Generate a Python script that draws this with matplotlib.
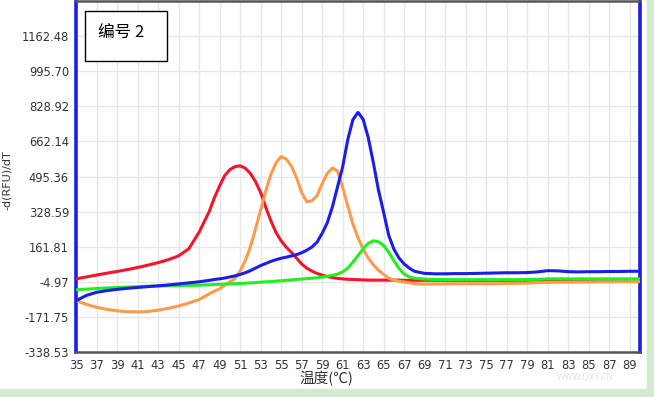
import matplotlib
matplotlib.use("Agg")
import matplotlib.pyplot as plt
from matplotlib.patches import Rectangle

# melt curve readings (temperature in C, -d(RFU)/dT)
temps = [35, 36, 37, 38, 39, 40, 41, 42, 43, 44, 45, 46, 47,
         48, 48.5, 49, 49.5, 50, 50.5, 51, 51.5, 52, 52.5, 53, 53.5,
         54, 54.5, 55, 55.5, 56, 56.5, 57, 57.5, 58, 58.5, 59, 59.5,
         60, 60.5, 61, 61.5, 62, 62.5, 63, 63.5, 64, 64.5, 65, 65.5,
         66, 66.5, 67, 67.5, 68,
         69, 70, 71, 72, 73, 74, 75, 76, 77, 78, 79, 80, 81, 82, 83,
         84, 85, 86, 87, 88, 89, 90]

red = [9, 18, 27, 36, 44, 53, 63, 74, 86, 100, 118, 152, 230,
       330, 395, 450, 500, 528, 542, 546, 535, 510, 472, 420, 350,
       285, 230, 190, 160, 135, 108, 80, 60, 46, 35, 27, 20,
       15, 11, 9, 7, 6, 5, 4, 3, 3, 3, 3, 3,
       3, 3, 2, 2, 2,
       2, 2, 2, 2, 2, 2, 2, 2, 2, 2, 2, 3, 4, 4, 4,
       4, 4, 5, 5, 5, 5, 5]

orange = [-95, -112, -126, -136, -143, -147, -148, -146, -140, -131, -120, -106, -90,
          -62, -50, -38, -22, -5, 10, 45, 95, 160, 245, 335, 425,
          505, 560, 590, 578, 545, 490, 420, 375, 380, 404, 460, 510,
          536, 522, 445, 356, 270, 205, 150, 108, 75, 50, 30, 12,
          3, -2, -6, -10, -14,
          -16, -16, -15, -14, -14, -14, -14, -14, -13, -12, -11, -9, -8, -7, -7,
          -6, -6, -5, -5, -4, -4, -4]

green = [-43, -40, -37, -34, -32, -30, -28, -26, -25, -24, -23, -22, -21,
         -19, -18, -17, -16, -15, -14, -13, -12, -10, -9, -7, -5,
         -4, -2, 0, 2, 4, 6, 8, 10, 12, 14, 17, 21,
         26, 31, 42, 60, 88, 120, 151, 178, 190, 185, 168, 135,
         95, 58, 32, 18, 12,
         8, 6, 5, 5, 5, 5, 5, 5, 5, 5, 6, 7, 9, 9, 9,
         9, 9, 9, 9, 9, 9, 9]

blue = [-95, -70, -55, -47, -41, -36, -32, -28, -24, -20, -15, -10, -5,
        2, 6, 9, 13, 18, 23, 30, 38, 48, 60, 72, 82,
        92, 100, 107, 112, 118, 124, 133, 145, 160, 183, 225, 275,
        350, 446, 540, 670, 765, 800, 767, 680, 560, 430, 325, 215,
        150, 108, 80, 60, 45,
        35, 33, 33, 34, 34, 35, 36, 37, 38, 38, 39, 42, 48, 47, 43,
        42, 43, 43, 44, 44, 45, 45]

xticks = list(range(35, 90, 2))
yticks = [-338.53, -171.75, -4.97, 161.81, 328.59, 495.36, 662.14, 828.92, 995.70, 1162.48]
ytick_labels = ['-338.53', '-171.75', '-4.97', '161.81', '328.59', '495.36',
                '662.14', '828.92', '995.70', '1162.48']

plt.rcParams['font.family'] = ['DejaVu Sans']

fig = plt.figure(figsize=(6.54, 3.97), dpi=100)
fig.patch.set_facecolor('white')

# light green frame strips at bottom and right
bg = '#d3ebcf'
fig.patches.append(Rectangle((0, 0), 1, 8 / 397, transform=fig.transFigure, color=bg, zorder=0))
fig.patches.append(Rectangle((647 / 654, 0), 7 / 654, 1, transform=fig.transFigure, color=bg, zorder=0))

ax = fig.add_axes([76 / 654, 1 - 352 / 397, 564 / 654, 351 / 397])
ax.plot(temps, red, color='#f3152c', lw=2.2, zorder=3)
ax.plot(temps, orange, color='#fd9b4d', lw=2.2, zorder=3)
ax.plot(temps, green, color='#1ff01f', lw=2.2, zorder=4)
ax.plot(temps, blue, color='#1a1ee8', lw=2.2, zorder=5)

ax.set_xlim(35, 90)
ax.set_ylim(-338.53, 1329.26)
ax.set_xticks(xticks)
ax.set_yticks(yticks)
ax.set_yticklabels(ytick_labels)
ax.tick_params(length=0, labelsize=8.3, colors='#333333', pad=5)
ax.grid(True, color='#e6e6e6', lw=1)
ax.set_axisbelow(True)

for side in ['top', 'bottom']:
    ax.spines[side].set_color('#555555')
    ax.spines[side].set_linewidth(1.8)
for side in ['left', 'right']:
    ax.spines[side].set_color('#1a1ee8')
    ax.spines[side].set_linewidth(2.6)

fig.text(7 / 654, 1 - 180 / 397, '-d(RFU)/dT', rotation=90, ha='center', va='center',
         fontsize=8, color='#333333')
fig.text(326 / 654, 1 - 379 / 397, '温度(℃)', ha='center', va='center', fontsize=10.5,
         color='#333333', family=['Noto Sans CJK SC', 'DejaVu Sans'])
fig.text(585 / 654, 1 - 378 / 397, 'WWW.DXY.CN', ha='center', va='center', fontsize=6,
         color='#e4e4e4')

# label box
fig.patches.append(Rectangle((85 / 654, 1 - 61 / 397), 82 / 654, 50 / 397,
                             transform=fig.transFigure, facecolor='white',
                             edgecolor='black', lw=1, zorder=10))
fig.text(98 / 654, 1 - 33 / 397, '编号 2', ha='left', va='center', fontsize=12,
         family=['Noto Sans CJK SC', 'DejaVu Sans'], zorder=11)

fig.savefig('out.png', dpi=100)
